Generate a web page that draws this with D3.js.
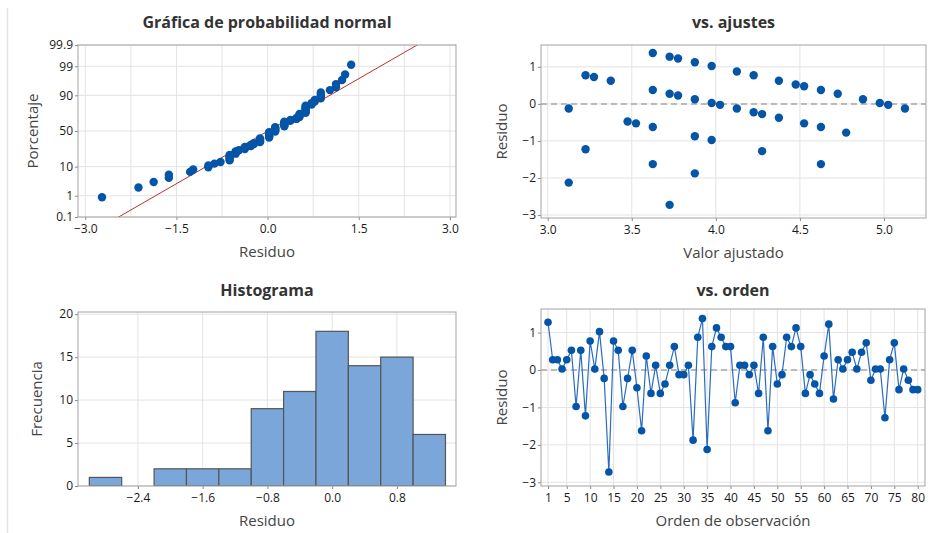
<!DOCTYPE html>
<html>
<head>
<meta charset="utf-8">
<style>
  body { margin: 0; background: #fff; }
  text { font-family: "Open Sans", sans-serif; fill: #333; }
  .title { font-size: 16px; font-weight: bold; text-anchor: middle; fill: #333; }
  .axlab { font-size: 15px; text-anchor: middle; fill: #444; }
  .tick text { font-size: 12px; fill: #1a1a1a; font-family: "Open Sans", sans-serif; }
  .tick line { stroke: #888; }
  .grid line { stroke: #e3e3e3; stroke-width: 1; }
  .frame { fill: none; stroke: #a3a3a3; stroke-width: 1; }
</style>
<script src="https://d3js.org/d3.v7.min.js"></script>
</head>
<body>
<script>
// residuals in observation order (1..80)
var residuals = [1.275, 0.275, 0.275, 0.025, 0.275, 0.525, -0.975, 0.525, -1.225, 0.775,
  0.025, 1.025, -0.225, -2.725, 0.775, 0.525, -0.975, -0.225, 0.525, -0.475,
  -1.625, 0.375, -0.625, 0.125, -0.625, -0.375, 0.125, 0.625, -0.125, -0.125,
  0.125, -1.875, 0.875, 1.375, -2.125, 0.625, 1.125, 0.875, 0.625, 0.625,
  -0.875, 0.125, 0.125, -0.125, 0.125, -0.625, 0.875, -1.625, 0.625, -0.375,
  -0.125, 0.875, 0.625, 1.125, 0.625, -0.625, -0.125, -0.375, -0.625, 0.375,
  1.225, -0.775, 0.275, 0.025, 0.275, 0.475, 0.025, 0.475, 0.725, -0.275,
  0.025, 0.025, -1.275, 0.275, 0.725, -0.525, 0.025, -0.275, -0.525, -0.525];

// residuals vs fitted values (distinct points)
var fitValues = [3.125, 3.125, 3.225, 3.225, 3.275, 3.375, 3.475, 3.525, 3.625, 3.625,
  3.625, 3.625, 3.725, 3.725, 3.725, 3.775, 3.775, 3.875, 3.875, 3.875,
  3.875, 3.975, 3.975, 3.975, 4.025, 4.125, 4.125, 4.225, 4.225, 4.275,
  4.275, 4.375, 4.375, 4.475, 4.525, 4.525, 4.625, 4.625, 4.625, 4.725,
  4.775, 4.875, 4.975, 5.025, 5.125];
var fitResiduals = [-0.125, -2.125, 0.775, -1.225, 0.725, 0.625, -0.475, -0.525, 1.375, 0.375,
  -0.625, -1.625, 1.275, 0.275, -2.725, 1.225, 0.225, 1.125, 0.125, -0.875,
  -1.875, 1.025, 0.025, -0.975, -0.025, 0.875, -0.125, 0.775, -0.225, -0.275,
  -1.275, 0.625, -0.375, 0.525, 0.475, -0.525, 0.375, -0.625, -1.625, 0.275,
  -0.775, 0.125, 0.025, -0.025, -0.125];

// histogram
var binMids = [-2.8, -2.4, -2.0, -1.6, -1.2, -0.8, -0.4, 0.0, 0.4, 0.8, 1.2];
var binCounts = [1, 0, 2, 2, 2, 9, 11, 18, 14, 15, 6];

// tick labels
var probTicks = [0.1, 1, 10, 50, 90, 99, 99.9];
var probXTicks = [-3.0, -1.5, 0.0, 1.5, 3.0];
var histXTicks = [-2.4, -1.6, -0.8, 0.0, 0.8];
var orderTicks = [1, 5, 10, 15, 20, 25, 30, 35, 40, 45, 50, 55, 60, 65, 70, 75, 80];

var blue = "#0455a8";

// inverse normal cdf (Acklam)
function qnorm(p) {
  var a = [-39.69683028665376, 220.9460984245205, -275.9285104469687, 138.3577518672690, -30.66479806614716, 2.506628277459239];
  var b = [-54.47609879822406, 161.5858368580409, -155.6989798598866, 66.80131188771972, -13.28068155288572];
  var c = [-0.007784894002430293, -0.3223964580411365, -2.400758277161838, -2.549732539343734, 4.374664141464968, 2.938163982698783];
  var d = [0.007784695709041462, 0.3224671290700398, 2.445134137142996, 3.754408661907416];
  var q, r;
  if (p < 0.02425) {
    q = Math.sqrt(-2 * Math.log(p));
    return (((((c[0]*q+c[1])*q+c[2])*q+c[3])*q+c[4])*q+c[5]) / ((((d[0]*q+d[1])*q+d[2])*q+d[3])*q+1);
  } else if (p > 1 - 0.02425) {
    q = Math.sqrt(-2 * Math.log(1 - p));
    return -(((((c[0]*q+c[1])*q+c[2])*q+c[3])*q+c[4])*q+c[5]) / ((((d[0]*q+d[1])*q+d[2])*q+d[3])*q+1);
  }
  q = p - 0.5; r = q * q;
  return (((((a[0]*r+a[1])*r+a[2])*r+a[3])*r+a[4])*r+a[5])*q / (((((b[0]*r+b[1])*r+b[2])*r+b[3])*r+b[4])*r+1);
}

var svg = d3.select("body").append("svg")
  .attr("width", 933).attr("height", 533);

svg.append("line")
  .attr("x1", 7.5).attr("x2", 7.5).attr("y1", 8).attr("y2", 533)
  .attr("stroke", "#e2e2e2").attr("stroke-width", 1.5);

// draws frame, grid, axes and labels for one panel
function panel(o) {
  var g = svg.append("g");
  var x = o.x, y = o.y;
  var L = x.range()[0], R = x.range()[1], B = y.range()[0], T = y.range()[1];

  var grid = g.append("g").attr("class", "grid");
  grid.selectAll(".gx").data(o.xGrid).enter().append("line")
    .attr("x1", d => x(d)).attr("x2", d => x(d)).attr("y1", T).attr("y2", B);
  grid.selectAll(".gy").data(o.yGrid).enter().append("line")
    .attr("x1", L).attr("x2", R).attr("y1", d => y(d)).attr("y2", d => y(d));

  var xa = g.append("g").attr("class", "axis").attr("transform", "translate(0," + B + ")")
    .call(d3.axisBottom(x).tickValues(o.xTicks).tickFormat(o.xFmt).tickSize(3).tickPadding(4));
  var ya = g.append("g").attr("class", "axis").attr("transform", "translate(" + L + ",0)")
    .call(d3.axisLeft(y).tickValues(o.yTicks).tickFormat(o.yFmt).tickSize(3).tickPadding(2));
  xa.select(".domain").remove();
  ya.select(".domain").remove();

  g.append("text").attr("class", "title")
    .attr("x", (L + R) / 2).attr("y", o.titleY).text(o.title);
  g.append("text").attr("class", "axlab")
    .attr("x", (L + R) / 2).attr("y", B + 40).text(o.xLabel);
  g.append("text").attr("class", "axlab")
    .attr("transform", "translate(" + o.yLabX + "," + (T + B) / 2 + ") rotate(-90)")
    .text(o.yLabel);

  var id = "clip" + Math.round(L) + "_" + Math.round(T);
  svg.append("clipPath").attr("id", id).append("rect")
    .attr("x", L).attr("y", T).attr("width", R - L).attr("height", B - T);
  var plot = svg.append("g").attr("clip-path", "url(#" + id + ")");
  o.draw(plot, x, y);

  svg.append("rect").attr("class", "frame")
    .attr("x", L).attr("y", T).attr("width", R - L).attr("height", B - T);
}

// 1. normal probability plot
var n = residuals.length;
var sorted = residuals.slice().sort(d3.ascending);
var mu = d3.mean(residuals), sd = d3.deviation(residuals);
panel({
  x: d3.scaleLinear().domain([-3.12, 3.1]).range([78, 456]),
  y: d3.scaleLinear().domain([-3.09, 3.09]).range([217, 45]),
  xGrid: d3.range(-3, 3.01, 0.75),
  yGrid: probTicks.map(p => qnorm(p / 100)),
  xTicks: probXTicks, xFmt: d3.format(".1f"),
  yTicks: probTicks.map(p => qnorm(p / 100)),
  yFmt: (d, i) => String(probTicks[i]),
  title: "Gráfica de probabilidad normal", titleY: 28,
  xLabel: "Residuo", yLabel: "Porcentaje", yLabX: 38,
  draw: function (p, x, y) {
    p.append("line")
      .attr("x1", x(mu + sd * -3.2)).attr("y1", y(-3.2))
      .attr("x2", x(mu + sd * 3.2)).attr("y2", y(3.2))
      .attr("stroke", "#b8322e").attr("stroke-width", 1);
    p.selectAll("circle").data(sorted).enter().append("circle")
      .attr("cx", d => x(d))
      .attr("cy", (d, i) => y(qnorm((i + 1 - 0.3) / (n + 0.4))))
      .attr("r", 4.2).attr("fill", blue);
  }
});

// 2. residuals vs fits
panel({
  x: d3.scaleLinear().domain([2.96, 5.25]).range([541, 926]),
  y: d3.scaleLinear().domain([-3.08, 1.59]).range([218, 45]),
  xGrid: [3.0, 3.5, 4.0, 4.5, 5.0],
  yGrid: [-3, -2, -1, 0, 1],
  xTicks: [3.0, 3.5, 4.0, 4.5, 5.0], xFmt: d3.format(".1f"),
  yTicks: [-3, -2, -1, 0, 1], yFmt: d3.format("d"),
  title: "vs. ajustes", titleY: 28,
  xLabel: "Valor ajustado", yLabel: "Residuo", yLabX: 507,
  draw: function (p, x, y) {
    p.append("line").attr("x1", x.range()[0]).attr("x2", x.range()[1])
      .attr("y1", y(0)).attr("y2", y(0))
      .attr("stroke", "#a8a8a8").attr("stroke-width", 1.5).attr("stroke-dasharray", "6,4");
    p.selectAll("circle").data(fitValues).enter().append("circle")
      .attr("cx", d => x(d)).attr("cy", (d, i) => y(fitResiduals[i]))
      .attr("r", 4.2).attr("fill", blue);
  }
});

// 3. histogram
panel({
  x: d3.scaleLinear().domain([-3.14, 1.53]).range([78, 456]),
  y: d3.scaleLinear().domain([0, 20.25]).range([486, 312]),
  xGrid: histXTicks,
  yGrid: [0, 5, 10, 15, 20],
  xTicks: histXTicks, xFmt: d3.format(".1f"),
  yTicks: [0, 5, 10, 15, 20], yFmt: d3.format("d"),
  title: "Histograma", titleY: 296,
  xLabel: "Residuo", yLabel: "Frecuencia", yLabX: 42,
  draw: function (p, x, y) {
    p.selectAll("rect").data(binMids).enter().append("rect")
      .filter((d, i) => binCounts[i] > 0)
      .attr("x", d => x(d - 0.2))
      .attr("width", d => x(d + 0.2) - x(d - 0.2))
      .attr("y", (d, i) => y(binCounts[binMids.indexOf(d)]))
      .attr("height", d => y(0) - y(binCounts[binMids.indexOf(d)]))
      .attr("fill", "#7ba6da").attr("stroke", "#555").attr("stroke-width", 1.2);
  }
});

// 4. residuals vs order
panel({
  x: d3.scaleLinear().domain([-0.5, 81.56]).range([541, 925]),
  y: d3.scaleLinear().domain([-3.1, 1.63]).range([486, 309]),
  xGrid: orderTicks,
  yGrid: [-3, -2, -1, 0, 1],
  xTicks: orderTicks, xFmt: d3.format("d"),
  yTicks: [-3, -2, -1, 0, 1], yFmt: d3.format("d"),
  title: "vs. orden", titleY: 296,
  xLabel: "Orden de observación", yLabel: "Residuo", yLabX: 507,
  draw: function (p, x, y) {
    p.append("line").attr("x1", x.range()[0]).attr("x2", x.range()[1])
      .attr("y1", y(0)).attr("y2", y(0))
      .attr("stroke", "#a8a8a8").attr("stroke-width", 1.5).attr("stroke-dasharray", "6,4");
    p.append("path").datum(residuals)
      .attr("d", d3.line().x((d, i) => x(i + 1)).y(d => y(d)))
      .attr("fill", "none").attr("stroke", "#2a6cc2").attr("stroke-width", 1.2);
    p.selectAll("circle").data(residuals).enter().append("circle")
      .attr("cx", (d, i) => x(i + 1)).attr("cy", d => y(d))
      .attr("r", 3.8).attr("fill", blue);
  }
});
</script>
</body>
</html>
